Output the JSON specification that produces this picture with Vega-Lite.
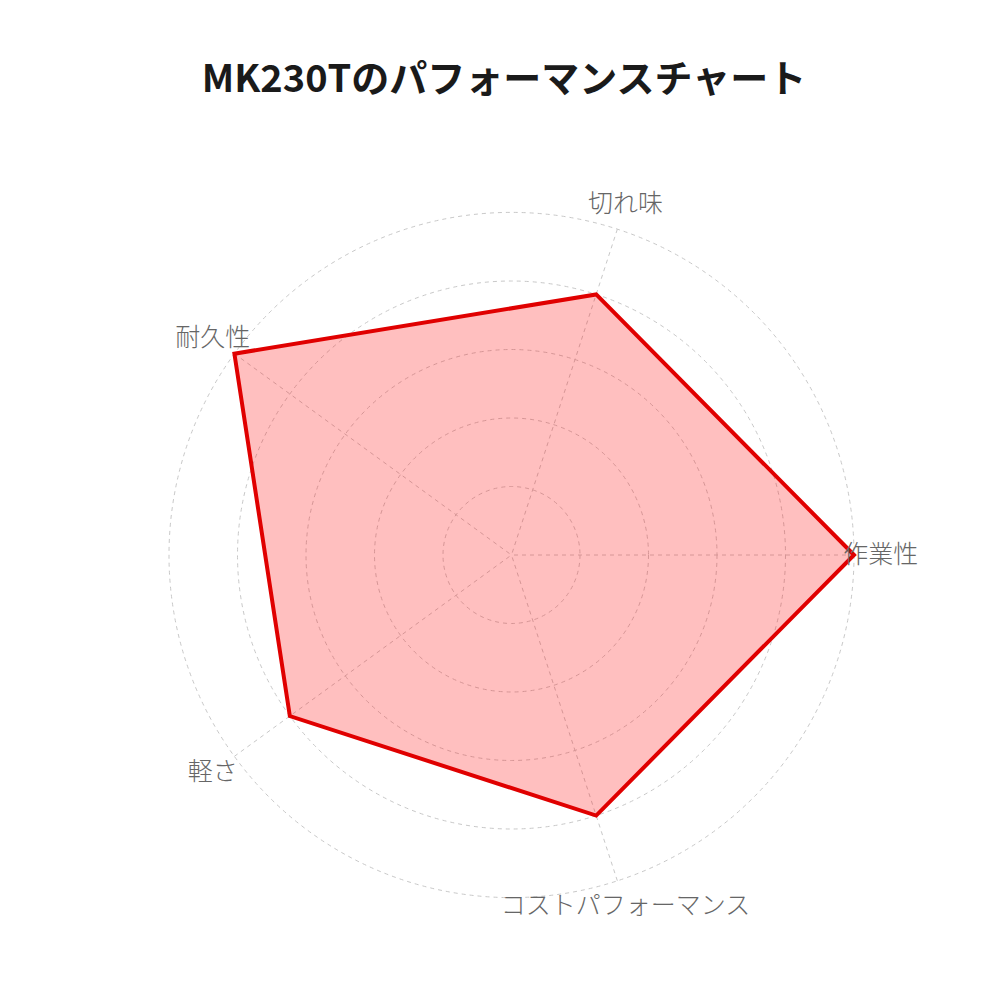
{
  "$schema": "https://vega.github.io/schema/vega-lite/v6.json",
  "title": {
    "text": "MK230Tのパフォーマンスチャート",
    "font": "Noto Sans CJK JP",
    "fontSize": 38,
    "fontWeight": "bold",
    "color": "#1a1a1a",
    "anchor": "middle",
    "offset": 15,
    "dx": -7.5
  },
  "autosize": {"type": "none"},
  "padding": {"left": 21.5, "top": 115, "right": 0, "bottom": 0},
  "width": 980,
  "height": 880,
  "background": "white",
  "datasets": {
    "scores": [
      {"item": "作業性", "i": 0, "score": 5},
      {"item": "切れ味", "i": 1, "score": 4},
      {"item": "耐久性", "i": 2, "score": 5},
      {"item": "軽さ", "i": 3, "score": 4},
      {"item": "コストパフォーマンス", "i": 4, "score": 4}
    ],
    "rings": [{"r": 1}, {"r": 2}, {"r": 3}, {"r": 4}, {"r": 5}]
  },
  "layer": [
    {
      "data": {"name": "rings"},
      "mark": {
        "type": "point",
        "shape": "circle",
        "filled": false,
        "stroke": "#c8c8c8",
        "strokeWidth": 1,
        "strokeDash": [4, 4],
        "opacity": 1
      },
      "encoding": {
        "x": {"datum": 0, "type": "quantitative", "scale": {"domain": [-7.1533, 7.1533], "nice": false, "zero": false}, "axis": null},
        "y": {"datum": 0, "type": "quantitative", "scale": {"domain": [-6.4234, 6.4234], "nice": false, "zero": false}, "axis": null},
        "size": {
          "field": "r",
          "type": "quantitative",
          "scale": {"type": "pow", "exponent": 2, "domain": [0, 5], "range": [0, 469225], "zero": true},
          "legend": null
        }
      }
    },
    {
      "data": {"name": "scores"},
      "transform": [
        {"calculate": "datum.i * 2 * PI / 5", "as": "angle"},
        {"calculate": "5 * cos(datum.angle)", "as": "sx"},
        {"calculate": "5 * sin(datum.angle)", "as": "sy"}
      ],
      "mark": {
        "type": "rule",
        "stroke": "#c8c8c8",
        "strokeWidth": 1,
        "strokeDash": [4, 4]
      },
      "encoding": {
        "x": {"field": "sx", "type": "quantitative"},
        "y": {"field": "sy", "type": "quantitative"},
        "x2": {"datum": 0},
        "y2": {"datum": 0}
      }
    },
    {
      "data": {"name": "scores"},
      "transform": [
        {"calculate": "datum.i * 2 * PI / 5", "as": "angle"},
        {"calculate": "datum.score * cos(datum.angle)", "as": "px"},
        {"calculate": "datum.score * sin(datum.angle)", "as": "py"}
      ],
      "mark": {
        "type": "line",
        "interpolate": "linear-closed",
        "fill": "#ff0000",
        "fillOpacity": 0.25,
        "stroke": "#e00000",
        "strokeWidth": 4,
        "strokeJoin": "miter"
      },
      "encoding": {
        "x": {"field": "px", "type": "quantitative"},
        "y": {"field": "py", "type": "quantitative"},
        "order": {"field": "i", "type": "quantitative"}
      }
    },
    {
      "data": {"name": "scores"},
      "transform": [
        {"calculate": "datum.i * 2 * PI / 5", "as": "angle"},
        {"calculate": "5.39 * cos(datum.angle)", "as": "lx"},
        {"calculate": "5.39 * sin(datum.angle)", "as": "ly"}
      ],
      "mark": {
        "type": "text",
        "font": "Noto Sans CJK JP",
        "fontSize": 25,
        "fontWeight": 200,
        "color": "#666666",
        "align": "center",
        "baseline": "middle"
      },
      "encoding": {
        "x": {"field": "lx", "type": "quantitative"},
        "y": {"field": "ly", "type": "quantitative"},
        "text": {"field": "item", "type": "nominal"}
      }
    }
  ],
  "config": {"view": {"stroke": null}}
}
